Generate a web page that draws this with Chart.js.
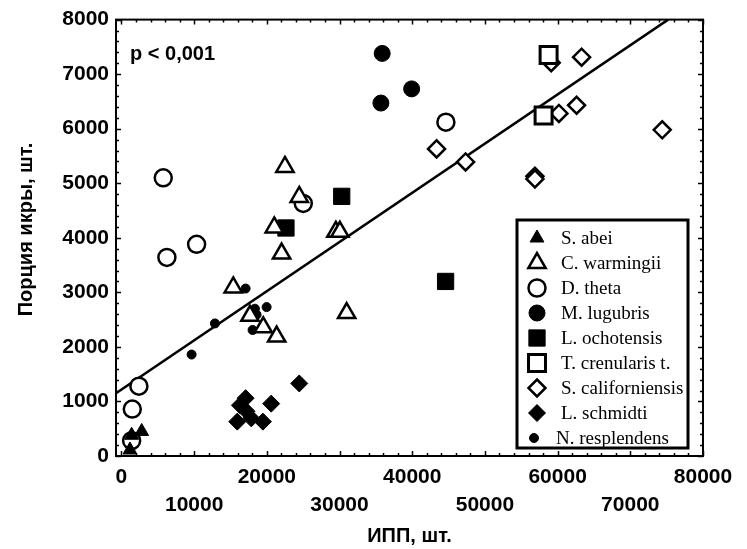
<!DOCTYPE html>
<html>
<head>
<meta charset="utf-8">
<script src="https://cdn.jsdelivr.net/npm/chart.js@4"></script>
<style>
  body { margin: 0; background: #fff; }
</style>
</head>
<body>
<canvas id="grafico" width="747" height="549"></canvas>
<script>
// tick labels
const xTicks = [0, 10000, 20000, 30000, 40000, 50000, 60000, 70000, 80000];
const yTicks = [0, 1000, 2000, 3000, 4000, 5000, 6000, 7000, 8000];
const xMinorStep = 2000;
const yMinorStep = 200;

// species (legend order)
const species = ['S. abei', 'C. warmingii', 'D. theta', 'M. lugubris', 'L. ochotensis',
  'T. crenularis t.', 'S. californiensis', 'L. schmidti', 'N. resplendens'];

// values: x = ИПП, y = порция икры
const sAbeiX = [1170, 1400, 2780];
const sAbeiY = [110, 380, 450];
const cWarmX = [22490, 24460, 21020, 22030, 29500, 30050, 15380, 30980, 17680, 19510, 21350];
const cWarmY = [5300, 4750, 4190, 3710, 4110, 4110, 3090, 2620, 2570, 2360, 2190];
const dThetaX = [44630, 25010, 10340, 6250, 5750, 2400, 1490, 1400];
const dThetaY = [6120, 4630, 3880, 3640, 5100, 1280, 860, 280];
const mLugX = [35870, 39920, 35690];
const mLugY = [7380, 6730, 6470];
const lOchX = [30300, 22630, 44590];
const lOchY = [4760, 4180, 3200];
const tCrenX = [58760, 58070];
const tCrenY = [7350, 6240];
const sCalX = [59120, 63300, 60180, 62610, 74390, 43350, 47340, 56880, 56880];
const sCalY = [7210, 7310, 6280, 6430, 5980, 5630, 5390, 5130, 5080];
const lSchX = [17080, 16300, 15930, 17860, 19460, 20600, 24460, 17200];
const lSchY = [1060, 930, 630, 690, 630, 960, 1330, 820];
const nResX = [9650, 12860, 17080, 18360, 19970, 18590, 18040];
const nResY = [1860, 2430, 3070, 2700, 2730, 2590, 2310];

// regression line end points
const lineX = [-750, 75200];
const lineY = [1150, 8000];

function pts(xs, ys) {
  return xs.map((v, i) => ({ x: v, y: ys[i] }));
}

const marks = [
  { style: 'triangle', r: 8, fill: '#000', bw: 1 },
  { style: 'triangle', r: 10, fill: '#fff', bw: 2.5 },
  { style: 'circle', r: 8.5, fill: '#fff', bw: 2.5 },
  { style: 'circle', r: 8, fill: '#000', bw: 1 },
  { style: 'rect', r: 11.5, fill: '#000', bw: 1 },
  { style: 'rect', r: 12, fill: '#fff', bw: 3 },
  { style: 'rectRot', r: 8.5, fill: '#fff', bw: 2.5 },
  { style: 'rectRot', r: 8.5, fill: '#000', bw: 1 },
  { style: 'circle', r: 4.5, fill: '#000', bw: 1 }
];
const series = [
  pts(sAbeiX, sAbeiY), pts(cWarmX, cWarmY), pts(dThetaX, dThetaY), pts(mLugX, mLugY),
  pts(lOchX, lOchY), pts(tCrenX, tCrenY), pts(sCalX, sCalY), pts(lSchX, lSchY), pts(nResX, nResY)
];

const datasets = species.map((name, i) => ({
  label: name,
  data: series[i],
  pointStyle: marks[i].style,
  pointRadius: marks[i].r,
  pointBackgroundColor: marks[i].fill,
  pointBorderColor: '#000',
  pointBorderWidth: marks[i].bw,
  clip: false,
  order: 1
}));
datasets.push({
  type: 'line',
  label: 'fit',
  data: pts(lineX, lineY),
  borderColor: '#000',
  borderWidth: 2.5,
  pointRadius: 0,
  order: 2
});

function drawSymbol(ctx, m, x, y) {
  ctx.beginPath();
  if (m.style === 'circle') {
    ctx.arc(x, y, m.r, 0, Math.PI * 2);
  } else if (m.style === 'triangle') {
    ctx.moveTo(x, y - m.r);
    ctx.lineTo(x + Math.sin(Math.PI * 2 / 3) * m.r, y + m.r / 2);
    ctx.lineTo(x - Math.sin(Math.PI * 2 / 3) * m.r, y + m.r / 2);
    ctx.closePath();
  } else if (m.style === 'rect') {
    const s = Math.SQRT1_2 * m.r;
    ctx.rect(x - s, y - s, 2 * s, 2 * s);
  } else {
    ctx.moveTo(x, y - m.r);
    ctx.lineTo(x + m.r, y);
    ctx.lineTo(x, y + m.r);
    ctx.lineTo(x - m.r, y);
    ctx.closePath();
  }
  ctx.fillStyle = m.fill;
  ctx.fill();
  ctx.lineWidth = m.bw;
  ctx.strokeStyle = '#000';
  ctx.stroke();
}

const framePlugin = {
  id: 'frame',
  beforeDatasetsDraw(chart) {
    const { ctx, chartArea: a, scales: { x, y } } = chart;
    ctx.save();
    ctx.strokeStyle = '#000';
    ctx.lineWidth = 1.5;
    ctx.beginPath();
    for (let v = xTicks[0]; v <= xTicks[xTicks.length - 1]; v += xMinorStep) {
      const px = Math.round(x.getPixelForValue(v)) + 0.5;
      const len = v % 10000 === 0 ? 5 : 3;
      ctx.moveTo(px, a.bottom); ctx.lineTo(px, a.bottom - len);
      ctx.moveTo(px, a.top); ctx.lineTo(px, a.top + len);
    }
    for (let v = yTicks[0]; v <= yTicks[yTicks.length - 1]; v += yMinorStep) {
      const py = Math.round(y.getPixelForValue(v)) + 0.5;
      const len = v % 1000 === 0 ? 5 : 3;
      ctx.moveTo(a.left, py); ctx.lineTo(a.left + len, py);
      ctx.moveTo(a.right, py); ctx.lineTo(a.right - len, py);
    }
    ctx.stroke();
    ctx.lineWidth = 2;
    ctx.strokeRect(a.left, a.top, a.right - a.left, a.bottom - a.top);
    ctx.restore();
  },
  afterDraw(chart) {
    const ctx = chart.ctx;
    ctx.save();
    ctx.fillStyle = '#000';
    ctx.font = 'bold 20px "Liberation Sans", Arial, sans-serif';
    ctx.textBaseline = 'middle';
    ctx.fillText('p < 0,001', 130, 54);

    // legend box
    ctx.fillStyle = '#fff';
    ctx.fillRect(517, 220, 171, 228);
    ctx.lineWidth = 3;
    ctx.strokeStyle = '#000';
    ctx.strokeRect(517, 220, 171, 228);
    ctx.font = '19px "Liberation Serif", "Times New Roman", serif';
    species.forEach((name, i) => {
      const yy = 238 + i * 25;
      const last = i === species.length - 1;
      drawSymbol(ctx, marks[i], last ? 534 : 537, yy);
      ctx.fillStyle = '#000';
      ctx.textBaseline = 'middle';
      ctx.fillText(name, last ? 556 : 561, yy + 1);
    });
    ctx.restore();
  }
};

const axisFont = { family: '"Liberation Sans", Arial, sans-serif', size: 21, weight: 'bold' };

const ctx = document.getElementById('grafico').getContext('2d');

const grafico = new Chart(ctx, {
  type: 'scatter',
  data: { datasets: datasets },
  options: {
    responsive: false,
    animation: false,
    events: [],
    layout: { padding: { top: 18, right: 44, left: 0, bottom: 0 } },
    plugins: {
      legend: { display: false },
      tooltip: { enabled: false }
    },
    scales: {
      x: {
        type: 'linear',
        min: -750,
        max: 80000,
        afterBuildTicks: (s) => { s.ticks = xTicks.map(v => ({ value: v })); },
        afterFit: (s) => { s.height = 93; },
        grid: { display: false, drawTicks: false },
        border: { display: false },
        ticks: {
          color: '#000',
          padding: 8,
          maxRotation: 0,
          autoSkip: false,
          font: Object.assign({}, axisFont, { lineHeight: 1.3 }),
          callback: (v) => (v / 10000) % 2 === 1 ? ['', String(v)] : String(v)
        },
        title: {
          display: true,
          text: 'ИПП, шт.',
          color: '#000',
          padding: { top: 0, bottom: 1 },
          font: { family: '"Liberation Sans", Arial, sans-serif', size: 20, weight: 'bold' }
        }
      },
      y: {
        min: 0,
        max: 8000,
        afterBuildTicks: (s) => { s.ticks = yTicks.map(v => ({ value: v })); },
        afterFit: (s) => { s.width = 116; },
        grid: { display: false, drawTicks: false },
        border: { display: false },
        ticks: {
          color: '#000',
          padding: 7,
          font: axisFont,
          callback: (v) => String(v)
        },
        title: {
          display: true,
          text: '   Порция икры, шт.',
          color: '#000',
          padding: { top: 14, bottom: 0 },
          font: { family: '"Liberation Sans", Arial, sans-serif', size: 20, weight: 'bold' }
        }
      }
    }
  },
  plugins: [framePlugin]
});
</script>
</body>
</html>
